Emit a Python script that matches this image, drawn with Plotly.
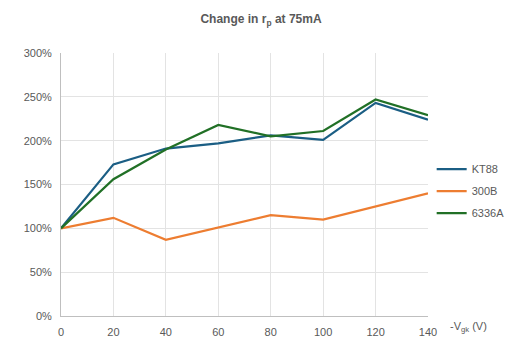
import plotly.graph_objects as go

vgk = [0, 20, 40, 60, 80, 100, 120, 140]
kt88 = [100, 173, 191, 197, 206, 201, 243, 224]
b300 = [100, 112, 87, 101, 115, 110, 125, 140]
a6336 = [100, 156, 190, 218, 205, 211, 247, 229]
y_ticks = [0, 50, 100, 150, 200, 250, 300]
y_labels = [f"{v}%" for v in y_ticks]

fig = go.Figure()
for name, vals, col in [("KT88", kt88, "#1B5E84"), ("300B", b300, "#ED7D31"), ("6336A", a6336, "#217026")]:
    fig.add_trace(go.Scatter(x=vgk, y=vals, name=name, mode="lines", legendgroup=name,
                             line=dict(color=col, width=2.2)))

# page body has an 8px default margin, so the figure is sized/offset to compensate
fig.update_layout(
    width=506, height=347,
    paper_bgcolor="white", plot_bgcolor="white",
    font=dict(family="Liberation Sans, Arial, sans-serif", size=11, color="#595959"),
    title=dict(text="<b>Change in r<sub>p</sub> at 75mA</b>", x=0.5, xanchor="center",
               y=0.968, yanchor="middle", font=dict(size=12, color="#595959"),
               automargin=False),
    margin=dict(l=53, r=86, t=45, b=39, autoexpand=False),
    showlegend=True,
    legend=dict(x=1.01, xanchor="left", y=0.475, yanchor="middle",
                font=dict(size=11, color="#595959"), itemwidth=30, tracegroupgap=3),
    xaxis=dict(range=[0, 140], tickvals=vgk, showgrid=True, gridcolor="#E3E3E3",
               showline=True, linecolor="#BFBFBF", linewidth=1, zeroline=False,
               ticks="", automargin=False, ticklabelstandoff=6),
    yaxis=dict(range=[0, 300], tickvals=y_ticks, ticktext=y_labels, showgrid=True,
               gridcolor="#E3E3E3", showline=True, linecolor="#BFBFBF", linewidth=1,
               zeroline=False, ticks="", ticklabelstandoff=6, automargin=False),
)
fig.add_annotation(text="-V<sub>gk</sub> (V)", xref="paper", yref="paper", x=1.055, y=0,
                   xanchor="left", yanchor="top", yshift=-2, showarrow=False,
                   font=dict(size=11, color="#595959"))
fig.write_html("out.html")
